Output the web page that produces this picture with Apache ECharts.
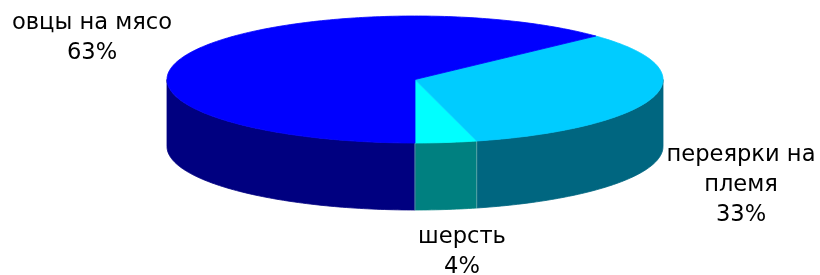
<!DOCTYPE html>
<html>
<head>
<meta charset="utf-8">
<script src="https://cdn.jsdelivr.net/npm/echarts@6/dist/echarts.min.js"></script>
<style>
  html, body { margin: 0; padding: 0; background: #fff; }
  #chart { width: 820px; height: 275px; }
</style>
</head>
<body>
<div id="chart"></div>
<script>
// Slices, in drawing order (starting at the front, going round to the right)
var categories = ['шерсть', 'переярки на\nплемя', 'овцы на мясо'];
var values = [4, 33, 63];
var topColors = ['#00FFFF', '#00CCFF', '#0000FF'];
var sideColors = ['#008080', '#006680', '#000080'];

// Label centres (layout only)
var labelPos = [[462, 252], [741, 185], [92, 38]];

// Pie geometry
var cx = 415, cy = 79.5, rx = 248, ry = 63.5, depth = 67;

var total = values.reduce(function (a, b) { return a + b; }, 0);

function pt(deg, dz) {
  var r = deg * Math.PI / 180;
  return [cx + rx * Math.cos(r), cy + ry * Math.sin(r) + dz];
}

function arc(a, b, dz) {
  var n = Math.max(2, Math.ceil(Math.abs(a - b)));
  var out = [];
  for (var i = 0; i <= n; i++) {
    out.push(pt(a + (b - a) * i / n, dz));
  }
  return out;
}

function renderItem(params, api) {
  var idx = params.dataIndex;
  var before = 0;
  for (var i = 0; i < idx; i++) before += values[i];
  var v = api.value(0);
  var start = 90 - 360 * before / total;
  var end = start - 360 * v / total;
  var children = [];

  // outer wall, only the front half is visible
  for (var k = -2; k <= 1; k++) {
    var lo = Math.max(end, k * 360);
    var hi = Math.min(start, k * 360 + 180);
    if (hi - lo > 0.01) {
      var pts = arc(hi, lo, 0).concat(arc(lo, hi, depth));
      children.push({
        type: 'polygon', z2: 0,
        shape: { points: pts },
        style: { fill: sideColors[idx], stroke: sideColors[idx], lineWidth: 0.8 }
      });
    }
  }

  // edge line where this slice starts, if it is on the front
  if (Math.sin(start * Math.PI / 180) > 0.01) {
    var p1 = pt(start, 0), p2 = pt(start, depth);
    children.push({
      type: 'line', z2: 5,
      shape: { x1: p1[0], y1: p1[1], x2: p2[0], y2: p2[1] },
      style: { stroke: '#5aa8a8', lineWidth: 1 }
    });
  }

  // top face
  children.push({
    type: 'polygon', z2: 10,
    shape: { points: [[cx, cy]].concat(arc(start, end, 0)) },
    style: { fill: topColors[idx], stroke: topColors[idx], lineWidth: 0.8 }
  });

  // label
  var pct = Math.round(v / total * 100);
  children.push({
    type: 'text', z2: 20,
    x: labelPos[idx][0], y: labelPos[idx][1],
    style: {
      text: categories[idx] + '\n' + pct + '%',
      fill: '#000',
      font: '22.6px "DejaVu Sans", Verdana, sans-serif',
      lineHeight: 30,
      align: 'center',
      verticalAlign: 'middle'
    }
  });

  return { type: 'group', children: children };
}

var chart = echarts.init(document.getElementById('chart'));
chart.setOption({
  animation: false,
  series: [{
    type: 'custom',
    coordinateSystem: 'none',
    silent: true,
    renderItem: renderItem,
    data: values.map(function (v, i) { return { name: categories[i], value: [v] }; })
  }]
});
</script>
</body>
</html>
